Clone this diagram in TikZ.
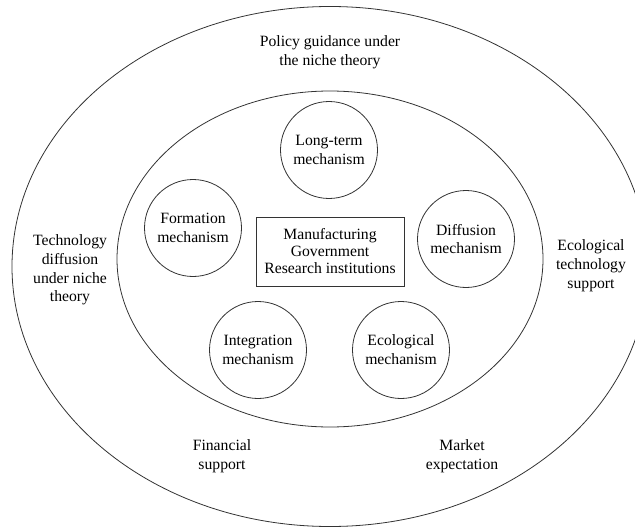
\documentclass[tikz,border=0pt]{standalone}
\usepackage{fontspec}
\setmainfont{Liberation Serif}
\newcommand{\lbl}{\fontsize{15.7}{18.8}\selectfont}
\newcommand{\corelbl}{\fontsize{15.7}{17}\selectfont}
\begin{document}
\begin{tikzpicture}[x=1pt,y=-1pt,
  ring/.style={draw=black!80, line width=0.8pt},
  mech/.style={circle, draw=black!80, line width=0.8pt, minimum size=97pt,
               inner sep=0pt, align=center, font=\lbl},
  actors/.style={rectangle, draw=black!80, line width=0.8pt, minimum width=148pt,
                 minimum height=69pt, align=center, font=\corelbl},
  txt/.style={align=center, font=\lbl}]
\useasboundingbox (0,0) rectangle (635,527);

% outer and inner rings
\draw[ring] (330,266.5) ellipse [x radius=318pt, y radius=260pt];
\draw[ring] (330,259) ellipse [x radius=213pt, y radius=168pt];

% mechanisms around the core
\node[mech] (long)  at (329,150) {Long-term\\mechanism};
\node[mech] (form)  at (193,228) {Formation\\mechanism};
\node[mech] (diff)  at (466,239) {Diffusion\\mechanism};
\node[mech] (integ) at (258,350) {Integration\\mechanism};
\node[mech] (eco)   at (401,350) {Ecological\\mechanism};

% core actors
\node[actors] (core) at (330,251.5) {Manufacturing\\Government\\Research institutions};

% outer ring labels
\node[txt] (policy)  at (330,52.5) {Policy guidance under\\the niche theory};
\node[txt] (techdif) at (70,270)   {Technology\\diffusion\\under niche\\theory};
\node[txt] (ecotech) at (591,266)  {Ecological\\technology\\support};
\node[txt] (fin)     at (222,456.5) {Financial\\support};
\node[txt] (market)  at (462,456.5) {Market\\expectation};
\end{tikzpicture}
\end{document}
